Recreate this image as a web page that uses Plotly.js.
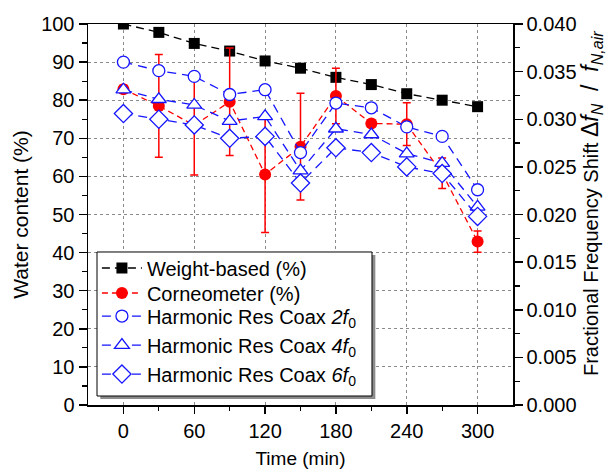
<!DOCTYPE html>
<html>
<head>
<meta charset="utf-8">
<script src="https://cdn.plot.ly/plotly-3.0.1.min.js"></script>
<style>html,body{margin:0;padding:0;background:#fff;}</style>
</head>
<body>
<div id="chart" style="width:610px;height:471px;"></div>
<script>
// Time points (min)
const time = [0, 30, 60, 90, 120, 150, 180, 210, 240, 270, 300];
// Water content (%), left axis
const weightBased = [100, 97.8, 94.9, 92.9, 90.3, 88.4, 86.0, 84.1, 81.7, 80.0, 78.3];
const corneometer = [82.9, 78.5, 73.4, 79.6, 60.5, 67.8, 81.1, 73.9, 73.7, 60.8, 42.9];
const corneometerErr = [1, 13.5, 13, 14.1, 15.2, 14, 7.3, 1, 5.6, 4, 2.8];
// Fractional frequency shift, right axis
const coax2f = [0.0360, 0.0351, 0.0345, 0.0326, 0.0331, 0.0265, 0.0317, 0.0312, 0.0292, 0.0282, 0.0226];
const coax4f = [0.0331, 0.0321, 0.0315, 0.0298, 0.0303, 0.0246, 0.0290, 0.0284, 0.0264, 0.0254, 0.0208];
const coax6f = [0.0306, 0.0300, 0.0294, 0.0280, 0.0282, 0.0233, 0.0270, 0.0265, 0.0250, 0.0243, 0.0198];
// Tick labels
const xTicks = [0, 60, 120, 180, 240, 300];
const xTopTicks = [0, 30, 60, 90, 120, 150, 180, 210, 240, 270, 300];

const FONT = 'Liberation Sans, Arial, sans-serif';
const BLUE = '#1515ff';
const RED = '#ff0000';

const traces = [
  {x: time, y: weightBased, name: 'Weight-based (%)', type: 'scatter', mode: 'lines+markers',
   line: {color: '#000', width: 1.3, dash: '8px,5px'},
   marker: {symbol: 'square', size: 11, color: '#000'}, xaxis: 'x', yaxis: 'y', legend: 'legend'},
  {x: time, y: corneometer, name: 'Corneometer (%)', type: 'scatter', mode: 'lines+markers',
   line: {color: RED, width: 1.3, dash: '6px,4px'},
   marker: {symbol: 'circle', size: 12, color: RED},
   error_y: {type: 'data', array: corneometerErr, visible: true, color: RED, thickness: 1.5, width: 4},
   xaxis: 'x', yaxis: 'y', legend: 'legend2'},
  {x: time, y: coax2f, name: 'Harmonic Res Coax <i>2f</i><sub>0</sub>', type: 'scatter', mode: 'lines+markers',
   line: {color: BLUE, width: 1.3, dash: '9px,6px'},
   marker: {symbol: 'circle', size: 12, color: '#fff', line: {color: BLUE, width: 1.3}},
   xaxis: 'x', yaxis: 'y2', legend: 'legend3'},
  {x: time, y: coax4f, name: 'Harmonic Res Coax <i>4f</i><sub>0</sub>', type: 'scatter', mode: 'lines+markers',
   line: {color: BLUE, width: 1.3, dash: '9px,6px'},
   marker: {symbol: 'triangle-up', size: 13, color: '#fff', line: {color: BLUE, width: 1.3}},
   xaxis: 'x', yaxis: 'y2', legend: 'legend3'},
  {x: time, y: coax6f, name: 'Harmonic Res Coax <i>6f</i><sub>0</sub>', type: 'scatter', mode: 'lines+markers',
   line: {color: BLUE, width: 1.3, dash: '9px,6px'},
   marker: {symbol: 'diamond', size: 14, color: '#fff', line: {color: BLUE, width: 1.3}},
   xaxis: 'x', yaxis: 'y2', legend: 'legend3'}
];

const legendBase = {
  xanchor: 'left', bgcolor: 'rgba(0,0,0,0)', borderwidth: 0,
  font: {family: FONT, size: 20, color: '#000'}, itemwidth: 40, tracegroupgap: 0
};

const rightTitle = 'Fractional Frequency Shift ' +
  '<span style="font-size:23px">Δ<i>f</i><sub><i>N</i></sub>&nbsp;&nbsp;/&nbsp;&nbsp;<i>f</i><sub><i>N,air</i></sub></span>';

const layout = {
  width: 610, height: 471,
  margin: {l: 88, r: 97, t: 24, b: 66},
  paper_bgcolor: '#fff', plot_bgcolor: '#fff',
  font: {family: FONT, size: 20, color: '#000'},
  showlegend: true,
  xaxis: {
    range: [-30, 330], tickvals: xTicks, ticks: 'outside', ticklen: 7, tickwidth: 1.5, tickcolor: '#000',
    showline: true, linewidth: 1.5, linecolor: '#000', mirror: true, zeroline: false,
    showgrid: true, gridcolor: '#8a8a8a', griddash: 'dot', gridwidth: 1,
    minor: {tickvals: xTopTicks, ticks: 'outside', ticklen: 4, tickwidth: 1.2, tickcolor: '#000', showgrid: false},
    tickfont: {size: 20},
    title: {text: 'Time (min)', font: {size: 19}, standoff: 11}
  },
  xaxis2: {
    overlaying: 'x', side: 'top', range: [-30, 330], tickvals: xTopTicks, ticks: 'inside', ticklen: 4,
    tickwidth: 1.2, tickcolor: '#000', showticklabels: false, showgrid: false, zeroline: false, showline: false
  },
  yaxis: {
    range: [0, 100], dtick: 10, ticks: 'outside', ticklen: 8, tickwidth: 1.5, tickcolor: '#000',
    showline: true, linewidth: 1.5, linecolor: '#000', zeroline: false,
    showgrid: true, gridcolor: '#8a8a8a', griddash: 'dot', gridwidth: 1,
    minor: {dtick: 5, ticks: 'outside', ticklen: 5, tickwidth: 1.2, tickcolor: '#000', showgrid: false},
    tickfont: {size: 20},
    title: {text: 'Water content (%)', font: {size: 21}, standoff: 7}
  },
  yaxis2: {
    overlaying: 'y', side: 'right', range: [0, 0.04], dtick: 0.005, tickformat: '.3f',
    ticks: 'outside', ticklen: 8, tickwidth: 1.5, tickcolor: '#000',
    showline: true, linewidth: 1.5, linecolor: '#000', zeroline: false, showgrid: false,
    minor: {dtick: 0.0025, ticks: 'outside', ticklen: 5, tickwidth: 1.2, tickcolor: '#000', showgrid: false},
    tickfont: {size: 20}
  },
  annotations: [
    {text: rightTitle,
     xref: 'paper', yref: 'paper', x: 1.1835, y: 0.53, xanchor: 'center', yanchor: 'middle',
     textangle: -90, showarrow: false, font: {family: FONT, size: 20, color: '#000'}}
  ],
  legend: Object.assign({}, legendBase, {x: 0.021, y: 0.3596, yanchor: 'middle'}),
  legend2: Object.assign({}, legendBase, {x: 0.021, y: 0.294, yanchor: 'middle'}),
  legend3: Object.assign({}, legendBase, {x: 0.021, y: 0.03, yanchor: 'bottom'}),
  shapes: [
    {type: 'rect', xref: 'paper', yref: 'paper', x0: 0.0290, x1: 0.6761, y0: 0.0157, y1: 0.3937,
     fillcolor: '#8c8c8c', line: {width: 0}, layer: 'above'},
    {type: 'rect', xref: 'paper', yref: 'paper', x0: 0.0212, x1: 0.6682, y0: 0.0236, y1: 0.4016,
     fillcolor: '#fff', line: {color: '#000', width: 1}, layer: 'above'}
  ]
};

Plotly.newPlot('chart', traces, layout, {displayModeBar: false, staticPlot: true});
</script>
</body>
</html>
